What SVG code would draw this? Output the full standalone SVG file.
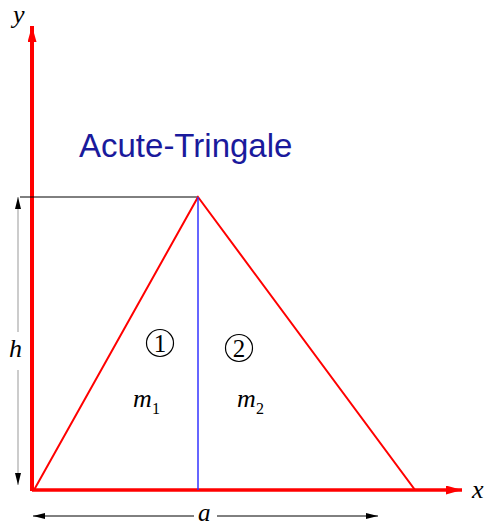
<svg xmlns="http://www.w3.org/2000/svg" width="484" height="527" viewBox="0 0 484 527">
<style>
.it{font-family:"Liberation Serif",serif;font-style:italic;fill:#000}
.sub{font-family:"Liberation Serif",serif;fill:#000}
.circ{fill:none;stroke:#000;stroke-width:1.2}
.num{font-family:"Liberation Serif",serif;font-size:25px;fill:#000;text-anchor:middle}
.dim{stroke:#000;stroke-width:1;fill:none}
</style>
<defs>
<marker id="ah" markerWidth="12" markerHeight="6" refX="12" refY="3" orient="auto" markerUnits="userSpaceOnUse">
<path d="M0,0 L12,3 L0,6 Z" fill="#000"/>
</marker>
<marker id="rah" markerWidth="16" markerHeight="9" refX="16" refY="4.5" orient="auto" markerUnits="userSpaceOnUse">
<path d="M0,0 L16,4.5 L0,9 Z" fill="#ff0000"/>
</marker>
</defs>
<g id="connectors">
<line x1="32" y1="491" x2="32" y2="26" stroke="#ff0000" stroke-width="4" marker-end="url(#rah)"/>
<line x1="32" y1="490" x2="462" y2="490" stroke="#ff0000" stroke-width="3.5" marker-end="url(#rah)"/>
<line x1="20" y1="197" x2="198" y2="197" stroke="#000" stroke-width="1"/>
<line x1="18" y1="332" x2="18" y2="197" stroke="#999" stroke-width="1" marker-end="url(#ah)"/>
<line x1="18" y1="370" x2="18" y2="485" stroke="#999" stroke-width="1" marker-end="url(#ah)"/>
<line x1="194" y1="516" x2="33" y2="516" class="dim" marker-end="url(#ah)"/>
<line x1="217" y1="516" x2="378" y2="516" class="dim" marker-end="url(#ah)"/>
</g>
<g id="triangle">
<polygon points="198,197 34,490 415,490" fill="none" stroke="#ff0000" stroke-width="2"/>
<line x1="198" y1="197" x2="198" y2="490" stroke="#3333ff" stroke-width="1.5"/>
</g>
<g id="title">
<text x="79" y="157" font-family="Liberation Sans, Arial, sans-serif" font-size="33" fill="#1a1a9c">Acute-Tringale</text>
</g>
<g id="labels">
<text x="13" y="23" class="it" font-size="26">y</text>
<text x="472" y="498" class="it" font-size="26">x</text>
<text x="9" y="357" class="it" font-size="26">h</text>
<text x="198" y="521" class="it" font-size="25">a</text>
</g>
<g id="region1">
<circle cx="160" cy="343" r="13.5" class="circ"/>
<text x="160" y="352" class="num">1</text>
<text x="133" y="407" class="it" font-size="26">m</text>
<text x="152" y="414" class="sub" font-size="16">1</text>
</g>
<g id="region2">
<circle cx="239" cy="348" r="13.5" class="circ"/>
<text x="239" y="357" class="num">2</text>
<text x="237" y="407" class="it" font-size="26">m</text>
<text x="256" y="414" class="sub" font-size="16">2</text>
</g>
</svg>
